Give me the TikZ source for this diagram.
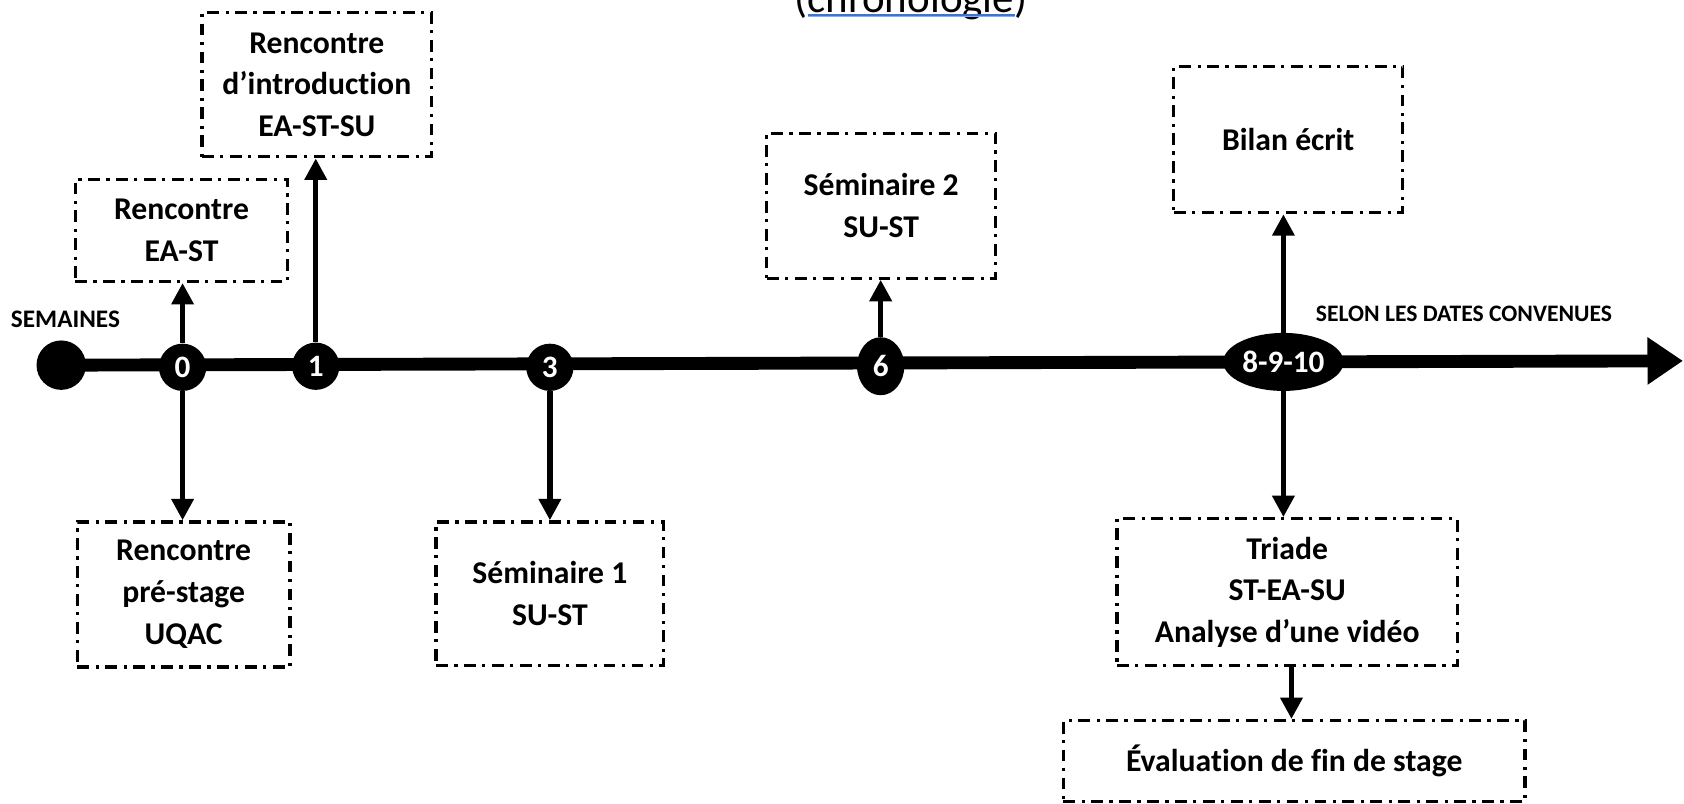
\documentclass[tikz,border=0pt]{standalone}
\usepackage{fontspec}
\setmainfont{Carlito}[Ligatures=NoCommon]
\usetikzlibrary{arrows.meta,shapes.geometric}
\definecolor{spellblue}{RGB}{68,114,196}
\begin{document}
\begin{tikzpicture}[x=1pt,y=1pt,
 box/.style={draw=black, line width=3pt, dash pattern=on 11pt off 6pt on 3pt off 6pt, align=center, inner sep=0pt, font=\fontsize{29.5}{39}\selectfont\bfseries},
 week/.style={circle, fill=black, text=white, inner sep=0pt, minimum size=44pt, font=\fontsize{29}{29}\selectfont\bfseries},
 arr/.style={line width=5pt, -{Triangle[length=20pt,width=20pt]}},
 lab/.style={anchor=west, inner sep=0pt, font=\fontsize{22}{22}\selectfont\bfseries}]
\useasboundingbox (0,0) rectangle (1568,748);
% title (cut by the top edge)
\node[anchor=base, inner sep=0pt, font=\fontsize{40}{48}\selectfont] (title) at (848,736) {(chronologie)};
\draw[spellblue, line width=1pt] (752,734) -- (945,734);
\draw[spellblue!60, line width=1pt] (752,732.5) -- (945,732.5);
% axis
\node[circle, fill=black, minimum size=46pt, inner sep=0pt] (start) at (57,408) {};
\coordinate (tip) at (1567,412);
\draw[line width=12pt, -{Triangle[length=33pt,width=42pt]}] (start.center) -- (tip);
% week markers
\node[week] (n0) at (170,406) {0};
\node[week] (n1) at (294,407) {1};
\node[week] (n3) at (512,406) {3};
\node[week, ellipse, minimum width=44pt, minimum height=54pt] (n6) at (820,407) {6};
\node[week, ellipse, minimum width=112pt, minimum height=54pt] (n8) at (1195,411) {8-9-10};
% labels
\node[lab, font=\fontsize{23.5}{23.5}\selectfont\bfseries] (sem) at (10,451) {SEMAINES};
\node[lab] (selon) at (1225,456) {SELON LES DATES CONVENUES};
% boxes
\node[box, minimum width=198pt, minimum height=95pt] (bA) at (169,533.5) {Rencontre\\EA-ST};
\node[box, minimum width=214pt, minimum height=134pt] (bB) at (295,669) {Rencontre\\d’introduction\\EA-ST-SU};
\node[box, minimum width=198pt, minimum height=135pt] (bC) at (171,194.5) {Rencontre\\pré-stage\\UQAC};
\node[box, minimum width=212pt, minimum height=134pt] (bD) at (512,195) {Séminaire 1\\SU-ST};
\node[box, minimum width=213pt, minimum height=135pt] (bE) at (820.5,556.5) {Séminaire 2\\SU-ST};
\node[box, minimum width=213pt, minimum height=136pt] (bF) at (1199.5,618) {Bilan écrit};
\node[box, minimum width=317pt, minimum height=137pt] (bG) at (1198.5,196.5) {Triade\\ST-EA-SU\\Analyse d’une vidéo};
\node[box, minimum width=430pt, minimum height=75pt] (bH) at (1205,39.5) {Évaluation de fin de stage};
% connectors
\draw[arr] (n0.north) -- (n0.north |- bA.south);
\draw[arr] (n0.south) -- (n0.south |- bC.north);
\draw[arr] (n1.north) -- (n1.north |- bB.south);
\draw[arr] (n3.south) -- (n3.south |- bD.north);
\draw[arr] (n6.north) -- (n6.north |- bE.south);
\draw[arr] (n8.north) -- (n8.north |- bF.south);
\draw[arr] (n8.south) -- (n8.south |- bG.north);
\draw[arr] ([xshift=4pt]bG.south) -- ([xshift=4pt]bG.south |- bH.north);
\end{tikzpicture}
\end{document}
